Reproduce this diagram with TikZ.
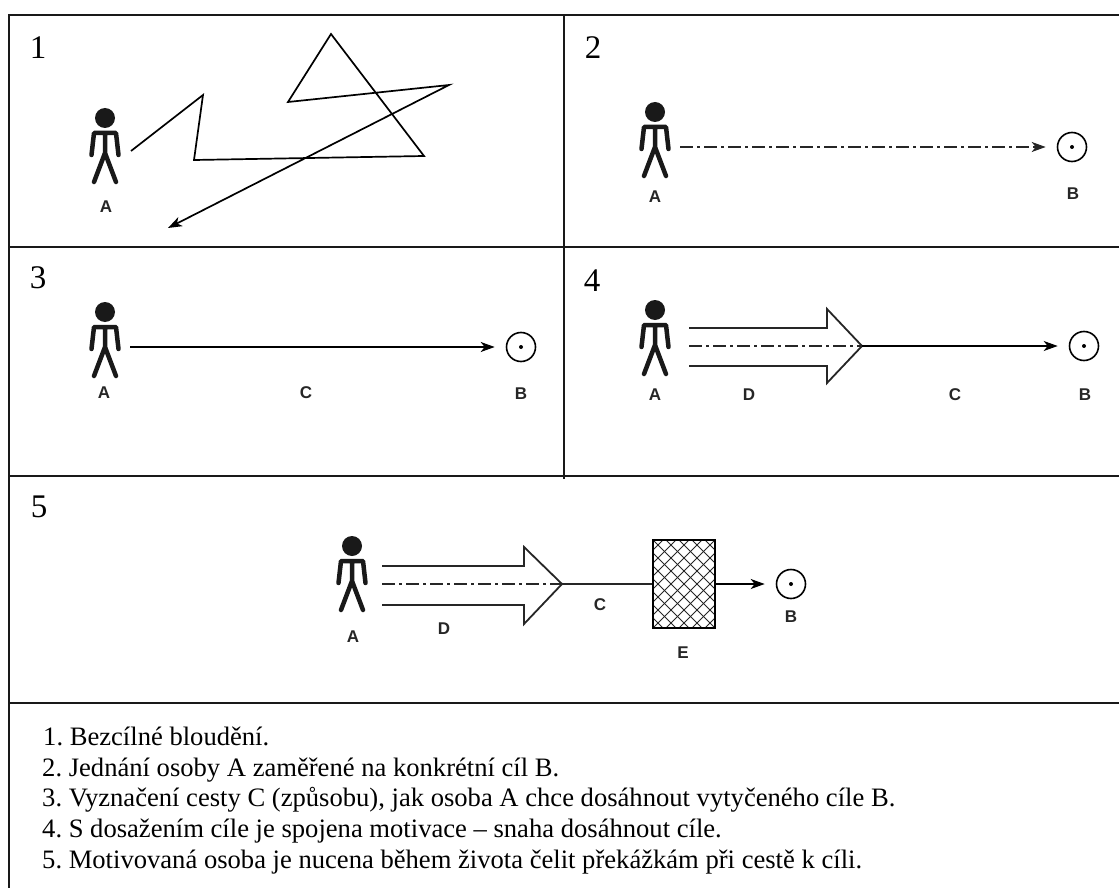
\documentclass[tikz,border=0pt]{standalone}
\usepackage{fontspec}
\setmainfont{Liberation Serif}
\setsansfont{Liberation Sans}
\usepackage{amssymb,amsmath}
\usetikzlibrary{arrows.meta}
\frenchspacing

\tikzset{
  grid/.style = {line width=1.5pt,black!90},
  num/.style = {inner sep=0pt,font=\fontsize{33}{36}\selectfont},
  letter/.style = {inner sep=0pt,black!85,font=\sffamily\bfseries\fontsize{17}{20}\selectfont},
  caption/.style = {inner sep=0pt,anchor=base west,font=\fontsize{26.6}{30}\selectfont},
  target/.style = {circle,draw,line width=1.6pt,minimum size=29pt,inner sep=0pt,
    path picture={\fill (path picture bounding box.center) circle (2pt);}},
  edge/.style = {-{Stealth[length=14pt,width=10pt,inset=4pt]},line width=1.7pt,shorten >=11pt},
  road/.style = {line width=1.8pt,black!85},
  motive/.style = {line width=2pt,black!85,dash pattern=on 13pt off 4pt on 3pt off 4pt},
  wall/.style = {rectangle,draw,line width=1.7pt,minimum width=62pt,minimum height=88pt,inner sep=0pt,
    path picture={
      \foreach \d in {-104,-91,...,104} {
        \draw[line width=1pt,black!85] ([shift={(\d-60,-60)}]path picture bounding box.center) -- ++(120,120);
        \draw[line width=1pt,black!85] ([shift={(\d-60,60)}]path picture bounding box.center) -- ++(120,-120);
      }}},
  person/.pic = {
    \fill[black!90] (0,0) circle (10);
    \draw[black!90,line width=4.5pt,line cap=round,line join=round]
      (-13.5,37) -- (-11,15) -- (11,15) -- (13.5,37)
      (0,15) -- (0,35) (-11,64) -- (0,35) -- (11,64);
  }
}

\begin{document}
\begin{tikzpicture}[x=1pt,y=-1pt]
  \useasboundingbox (0,0) rectangle (1119,888);

  % table lines
  \draw[grid] (1119,15) -- (9,15) -- (9,888);
  \draw[grid] (9,247) -- (1119,247);
  \draw[grid] (9,476) -- (1119,476);
  \draw[grid] (9,703) -- (1119,703);
  \draw[grid] (564,15) -- (564,479);

  \node[num] (n1) at (38,48) {1};
  \node[num] (n2) at (593,48) {2};
  \node[num] (n3) at (38,278) {3};
  \node[num] (n4) at (592,281) {4};
  \node[num] (n5) at (39,507) {5};

  % 1
  \pic at (105,118) {person};
  \node[letter] (a1) at (106,207) {A};
  \coordinate (w0) at (131,151);
  \coordinate (w1) at (203,95);
  \coordinate (w2) at (194,160);
  \coordinate (w3) at (424,156);
  \coordinate (w4) at (331,34);
  \coordinate (w5) at (288,102);
  \coordinate (w6) at (449,85);
  \coordinate (w7) at (168,228);
  \draw[edge,shorten >=0pt,line join=miter] (w0) -- (w1) -- (w2) -- (w3) -- (w4) -- (w5) -- (w6) -- (w7);

  % 2
  \pic at (655,112) {person};
  \node[letter] (a2) at (655,197) {A};
  \node[target] (t2) at (1072,147) {};
  \node[letter] (b2) at (1073,194) {B};
  \coordinate (s2) at (680,147);
  \draw[edge,motive] (s2) -- (t2);

  % 3
  \pic at (105,312) {person};
  \node[letter] (a3) at (104,393) {A};
  \node[target] (t3) at (521,347) {};
  \node[letter] (b3) at (521,394) {B};
  \node[letter] (c3) at (306,393) {C};
  \coordinate (s3) at (130,347);
  \draw[edge] (s3) -- (t3);

  % 4
  \pic at (655,310) {person};
  \node[letter] (a4) at (655,395) {A};
  \node[target] (t4) at (1084,346) {};
  \node[letter] (b4) at (1085,395) {B};
  \node[letter] (c4) at (955,395) {C};
  \node[letter] (d4) at (749,395) {D};
  \coordinate (u4) at (689,328);
  \coordinate (v4) at (827,328);
  \coordinate (r4) at (827,309);
  \coordinate (p4) at (862,346);
  \coordinate (x4) at (827,383);
  \coordinate (y4) at (827,366);
  \coordinate (z4) at (689,366);
  \coordinate (s4) at (689,346);
  \draw[road] (u4) -- (v4) -- (r4) -- (p4) -- (x4) -- (y4) -- (z4);
  \draw[motive] (s4) -- (p4);
  \draw[edge] (p4) -- (t4);

  % 5
  \pic at (352,546) {person};
  \node[letter] (a5) at (353,637) {A};
  \node[wall] (e5) at (684,584) {};
  \node[target] (t5) at (791,584) {};
  \node[letter] (b5) at (791,617) {B};
  \node[letter] (c5) at (600,605) {C};
  \node[letter] (d5) at (444,629) {D};
  \node[letter] (l5) at (683,653) {E};
  \coordinate (u5) at (382,566);
  \coordinate (v5) at (524,566);
  \coordinate (r5) at (524,547);
  \coordinate (p5) at (562,584);
  \coordinate (x5) at (524,624);
  \coordinate (y5) at (524,605);
  \coordinate (z5) at (382,605);
  \coordinate (s5) at (382,584);
  \draw[road] (u5) -- (v5) -- (r5) -- (p5) -- (x5) -- (y5) -- (z5);
  \draw[motive] (s5) -- (p5);
  \draw[road] (p5) -- (e5);
  \draw[edge] (e5) -- (t5);

  \node[caption] (k1) at (43,745) {1. Bezcílné bloudění.};
  \node[caption] (k2) at (42,776) {2. Jednání osoby A zaměřené na konkrétní cíl B.};
  \node[caption] (k3) at (42,806) {3. Vyznačení cesty C (způsobu), jak osoba A chce dosáhnout vytyčeného cíle B.};
  \node[caption] (k4) at (42,837) {4. S dosažením cíle je spojena motivace – snaha dosáhnout cíle.};
  \node[caption] (k5) at (42,868) {5. Motivovaná osoba je nucena během života čelit překážkám při cestě k cíli.};
\end{tikzpicture}
\end{document}
